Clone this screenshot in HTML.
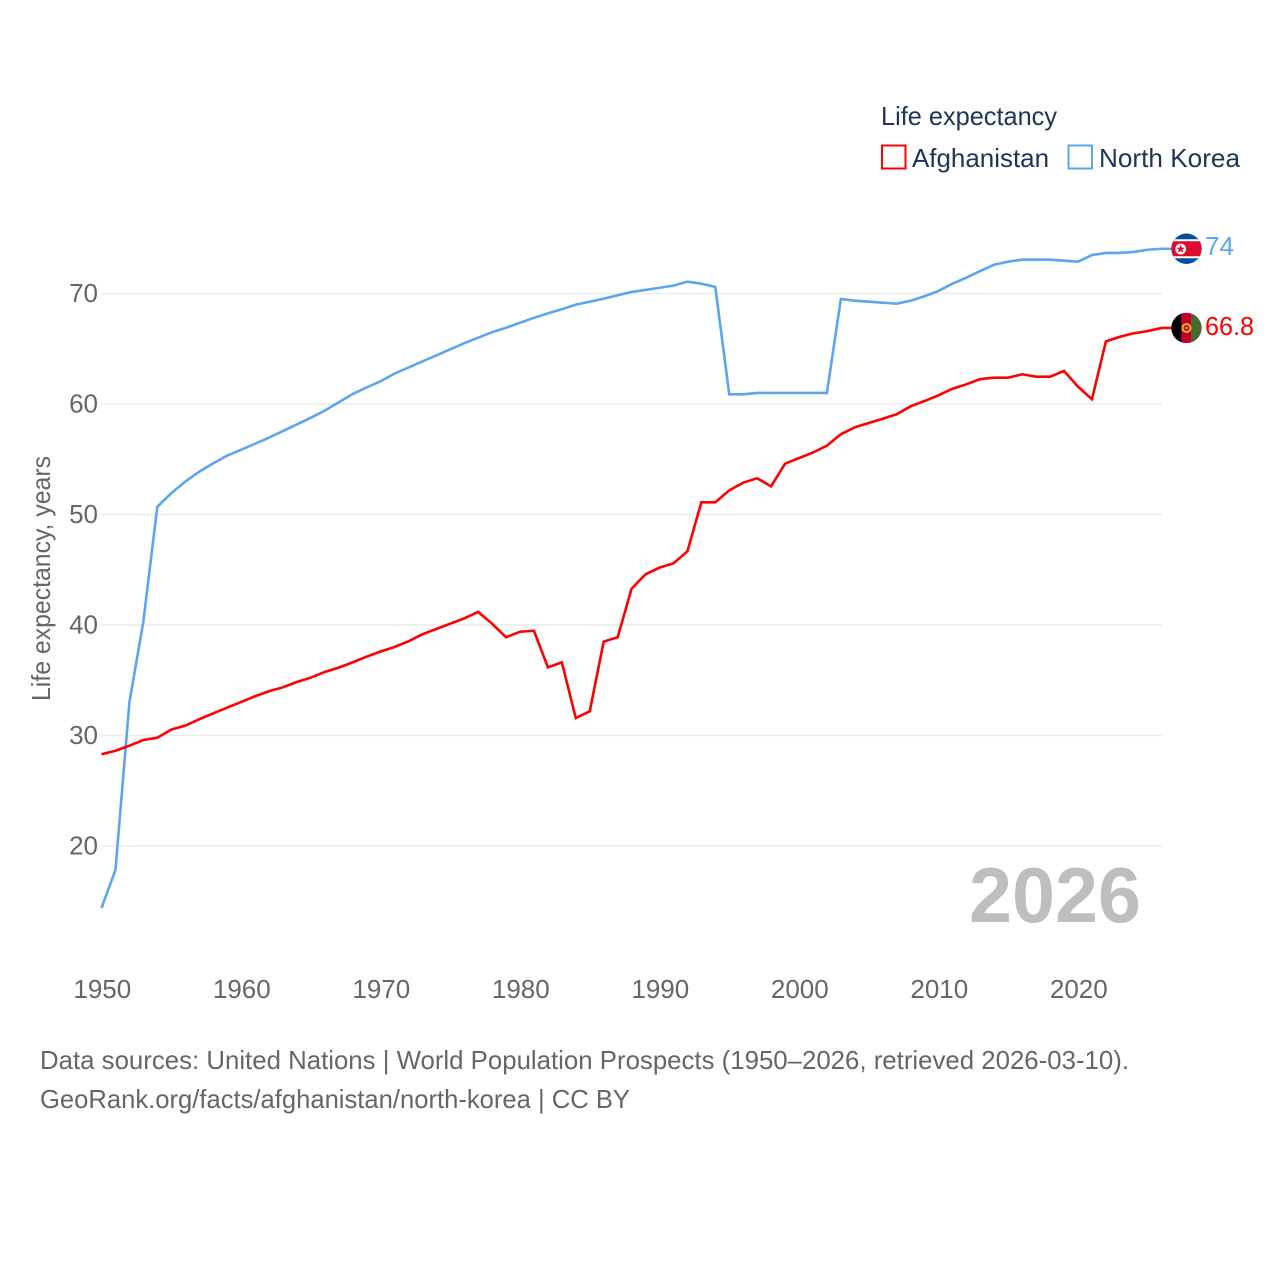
<!DOCTYPE html>
<html lang="en">
<head>
<meta charset="utf-8">
<title>Life expectancy: Afghanistan and North Korea</title>
<style>
html,body{margin:0;padding:0;background:#fff;width:1280px;height:1280px;overflow:hidden}
svg{display:block}
text{font-family:"Liberation Sans",sans-serif}
</style>
</head>
<body>
<svg id="chart" xmlns="http://www.w3.org/2000/svg" width="1280" height="1280" viewBox="0 0 1280 1280">
  <rect width="1280" height="1280" fill="#fff"/>
  <g id="grid"></g>
  <g id="yticks"></g>
  <g id="xticks"></g>
  <text transform="translate(50,701) rotate(-90)" font-size="26" fill="#666" textLength="245" lengthAdjust="spacingAndGlyphs">Life expectancy, years</text>
  <text x="969" y="922" font-size="78" font-weight="700" fill="#bebebe" textLength="172" lengthAdjust="spacingAndGlyphs">2026</text>
  <g id="series"></g>

  <defs>
    <clipPath id="flag-clip"><circle cx="0" cy="0" r="15.2"/></clipPath>
  </defs>
  <g id="flag-kp" clip-path="url(#flag-clip)">
    <rect x="-16" y="-16" width="32" height="32" fill="#024fa2"/>
    <rect x="-16" y="-9.5" width="32" height="19" fill="#fff"/>
    <rect x="-16" y="-7.5" width="32" height="15" fill="#dc0a2d"/>
    <circle cx="-5.8" cy="0.3" r="5.4" fill="#fff"/>
    <polygon points="-5.8,-4.2 -4.7,-1.1 -1.5,-1.1 -4,0.9 -3.1,4 -5.8,2.2 -8.5,4 -7.6,0.9 -10.1,-1.1 -6.9,-1.1" fill="#dc0a2d"/>
  </g>
  <g id="flag-af" clip-path="url(#flag-clip)">
    <rect x="-16" y="-16" width="11" height="32" fill="#000"/>
    <rect x="-5.2" y="-16" width="10.4" height="32" fill="#be0027"/>
    <rect x="5.2" y="-16" width="11" height="32" fill="#45692e"/>
    <circle cx="0" cy="0" r="4" fill="none" stroke="#e8b923" stroke-width="2"/>
    <circle cx="0" cy="0" r="1.2" fill="#e8b923"/>
  </g>
  <text id="value-kp" x="1205" y="255" font-size="26" fill="#5da5ee" textLength="29" lengthAdjust="spacingAndGlyphs"></text>
  <text id="value-af" x="1205" y="335" font-size="26" fill="#ff0000" textLength="49" lengthAdjust="spacingAndGlyphs"></text>

  <g>
    <text x="881" y="125" font-size="26" fill="#1d3557" textLength="176" lengthAdjust="spacingAndGlyphs">Life expectancy</text>
    <g>
      <rect x="882" y="145.5" width="23.5" height="23" fill="#fff" stroke="#ff0000" stroke-width="2"/>
      <text x="912" y="167" font-size="26" fill="#1d3557" textLength="137" lengthAdjust="spacingAndGlyphs">Afghanistan</text>
    </g>
    <g>
      <rect x="1068.5" y="145.5" width="23.5" height="23" fill="#fff" stroke="#5da5ee" stroke-width="2"/>
      <text x="1099" y="167" font-size="26" fill="#1d3557" textLength="141" lengthAdjust="spacingAndGlyphs">North Korea</text>
    </g>
  </g>

  <text x="40" y="1069" font-size="26" fill="#666" textLength="1089" lengthAdjust="spacingAndGlyphs">Data sources: United Nations | World Population Prospects (1950–2026, retrieved 2026-03-10).</text>
  <a><text x="40" y="1108" font-size="26" fill="#666" textLength="590" lengthAdjust="spacingAndGlyphs">GeoRank.org/facts/afghanistan/north-korea | CC BY</text></a>
</svg>
<script>
const startYear = 1950;
const yTicks = [20, 30, 40, 50, 60, 70];
const xTicks = [1950, 1960, 1970, 1980, 1990, 2000, 2010, 2020];
const afghanistan = [
  28.3, 28.62, 29.08, 29.59, 29.8, 30.53, 30.89, 31.47, 32.0, 32.52,
  33.03, 33.55, 34.0, 34.36, 34.84, 35.23, 35.75, 36.14, 36.62, 37.13,
  37.6, 38.01, 38.52, 39.16, 39.64, 40.12, 40.6, 41.18, 40.12, 38.89,
  39.39, 39.48, 36.17, 36.62, 31.58, 32.19, 38.49, 38.89, 43.29, 44.59,
  45.19, 45.58, 46.67, 51.1, 51.1, 52.19, 52.88, 53.28, 52.55, 54.6,
  55.11, 55.6, 56.23, 57.26, 57.89, 58.28, 58.67, 59.07, 59.79, 60.27,
  60.79, 61.38, 61.78, 62.26, 62.38, 62.38, 62.69, 62.47, 62.47, 62.99,
  61.57, 60.43, 65.67, 66.09, 66.4, 66.6, 66.88
];
const northKorea = [
  14.39, 17.83, 33.0, 40.3, 50.7, 51.92, 52.97, 53.87, 54.63, 55.32,
  55.85, 56.4, 56.95, 57.55, 58.15, 58.75, 59.4, 60.15, 60.9, 61.5,
  62.05, 62.75, 63.3, 63.85, 64.4, 64.95, 65.5, 66.0, 66.5, 66.9,
  67.35, 67.8, 68.2, 68.57, 68.99, 69.26, 69.53, 69.84, 70.14, 70.32,
  70.52, 70.71, 71.07, 70.89, 70.59, 60.88, 60.88, 61.0, 61.0, 61.0,
  61.0, 61.0, 61.0, 69.5, 69.35, 69.26, 69.17, 69.08, 69.35, 69.75,
  70.23, 70.89, 71.43, 72.04, 72.61, 72.88, 73.06, 73.06, 73.06, 72.97,
  72.88, 73.48, 73.67, 73.67, 73.76, 73.96, 74.05
];
const afghanistanLabel = "66.8";
const northKoreaLabel = "74";

const SVG_NS = "http://www.w3.org/2000/svg";
const xScale = function (year) { return 101.5 + (year - 1950) * 13.95; };
const yScale = function (v) { return 293.5 + (70 - v) * 11.05; };
const plotRight = 1162;
const flagX = 1186.5;

const grid = document.getElementById("grid");
const yGroup = document.getElementById("yticks");
const xGroup = document.getElementById("xticks");
const seriesGroup = document.getElementById("series");

yTicks.forEach(function (t) {
  const line = document.createElementNS(SVG_NS, "line");
  
  
  line.setAttribute("x1", xScale(startYear));
  line.setAttribute("x2", plotRight);
  line.setAttribute("y1", yScale(t));
  line.setAttribute("y2", yScale(t));
  line.setAttribute("stroke", "#ebebeb");
  line.setAttribute("stroke-width", "1.5");
  grid.appendChild(line);

  const label = document.createElementNS(SVG_NS, "text");
  
  
  label.setAttribute("x", 98);
  label.setAttribute("y", yScale(t) + 8.5);
  label.setAttribute("text-anchor", "end");
  label.setAttribute("font-size", "26");
  label.setAttribute("fill", "#666");
  label.textContent = t;
  yGroup.appendChild(label);
});

xTicks.forEach(function (t) {
  const label = document.createElementNS(SVG_NS, "text");
  
  
  label.setAttribute("x", xScale(t) + 0.8);
  label.setAttribute("y", 998);
  label.setAttribute("text-anchor", "middle");
  label.setAttribute("font-size", "26");
  label.setAttribute("fill", "#666");
  label.textContent = t;
  xGroup.appendChild(label);
});

function buildPoints(values) {
  const pts = values.map(function (v, i) {
    return xScale(startYear + i).toFixed(2) + "," + yScale(v).toFixed(2);
  });
  pts.push(flagX + "," + yScale(values[values.length - 1]).toFixed(2));
  return pts.join(" ");
}

const lineKp = document.createElementNS(SVG_NS, "polyline");


lineKp.setAttribute("points", buildPoints(northKorea));
lineKp.setAttribute("fill", "none");
lineKp.setAttribute("stroke", "#5da5ee");
lineKp.setAttribute("stroke-width", "2.6");
lineKp.setAttribute("stroke-linejoin", "miter");
seriesGroup.appendChild(lineKp);

const lineAf = document.createElementNS(SVG_NS, "polyline");


lineAf.setAttribute("points", buildPoints(afghanistan));
lineAf.setAttribute("fill", "none");
lineAf.setAttribute("stroke", "#ff0000");
lineAf.setAttribute("stroke-width", "2.6");
lineAf.setAttribute("stroke-linejoin", "miter");
seriesGroup.appendChild(lineAf);

const kpY = yScale(northKorea[northKorea.length - 1]);
const afY = yScale(afghanistan[afghanistan.length - 1]);
document.getElementById("flag-kp").setAttribute("transform", "translate(" + flagX + "," + kpY.toFixed(2) + ")");
document.getElementById("flag-af").setAttribute("transform", "translate(" + flagX + "," + afY.toFixed(2) + ")");
const valueKp = document.getElementById("value-kp");
const valueAf = document.getElementById("value-af");
valueKp.textContent = northKoreaLabel;
valueAf.textContent = afghanistanLabel;
valueKp.setAttribute("y", (kpY + 6).toFixed(2));
valueAf.setAttribute("y", (afY + 7).toFixed(2));
</script>
</body>
</html>
